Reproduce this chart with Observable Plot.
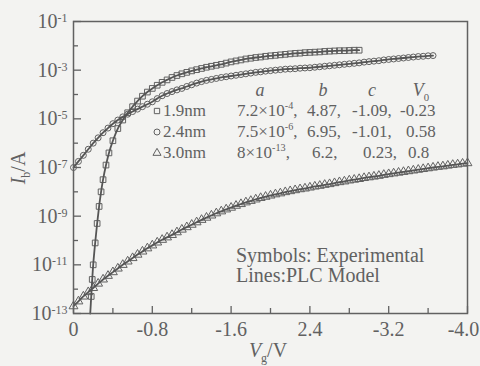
<!DOCTYPE html>
<html><head><meta charset="utf-8">
<script src="https://cdn.jsdelivr.net/npm/d3@7"></script>
<script src="https://cdn.jsdelivr.net/npm/@observablehq/plot@0.6"></script>
<style>
html,body{margin:0;padding:0;background:#f3f3f1;}
#chart{width:480px;height:366px;}
</style></head><body><div id="chart"></div>
<script>
// ---- data (V in volts, log10 of current in A) ----
const V_19 = [-0.17,-0.18,-0.19,-0.2,-0.22,-0.24,-0.26,-0.28,-0.3,-0.33,-0.36,-0.4,-0.45,-0.5,-0.55,-0.6,-0.65,-0.7,
  -0.75,-0.8,-0.85,-0.9,-0.95,-1,-1.05,-1.1,-1.15,-1.2,-1.25,-1.3,-1.35,-1.4,-1.45,-1.5,-1.55,-1.6,-1.65,-1.7,
  -1.75,-1.8,-1.85,-1.9,-1.95,-2,-2.05,-2.1,-2.15,-2.2,-2.25,-2.3,-2.35,-2.4,-2.45,-2.5,-2.55,-2.6,-2.65,-2.7,
  -2.75,-2.8,-2.85,-2.9];
const logI_19 = [-13.0,-12.3,-11.6,-11.0,-10.1,-9.3,-8.6,-8.0,-7.5,-6.9,-6.4,-5.9,-5.4,-5.05,-4.75,-4.5,-4.27,-4.07,
  -3.90,-3.75,-3.62,-3.50,-3.40,-3.30,-3.22,-3.15,-3.09,-3.03,
  -2.98,-2.93,-2.88,-2.84,-2.80,-2.76,-2.71,-2.66,-2.62,-2.58,
  -2.54,-2.51,-2.48,-2.46,-2.43,-2.41,-2.39,-2.37,-2.35,-2.33,
  -2.31,-2.30,-2.28,-2.27,-2.26,-2.25,-2.23,-2.22,-2.21,-2.20,
  -2.20,-2.19,-2.18,-2.18];

const V_24 = [0,-0.05,-0.1,-0.15,-0.2,-0.25,-0.3,-0.35,-0.4,-0.45,-0.5,-0.55,-0.6,-0.65,-0.7,-0.75,-0.8,-0.85,-0.9,-0.95,
  -1,-1.05,-1.1,-1.15,-1.2,-1.25,-1.3,-1.35,-1.4,-1.45,-1.5,-1.55,-1.6,-1.65,-1.7,-1.75,-1.8,-1.85,-1.9,-1.95,
  -2,-2.05,-2.1,-2.15,-2.2,-2.25,-2.3,-2.35,-2.4,-2.45,-2.5,-2.55,-2.6,-2.65,-2.7,-2.75,-2.8,-2.85,-2.9,-2.95,
  -3,-3.05,-3.1,-3.15,-3.2,-3.25,-3.3,-3.35,-3.4,-3.45,-3.5,-3.55,-3.6,-3.65];
const logI_24 = [-7.00,-6.75,-6.50,-6.25,-6.00,-5.78,-5.57,-5.38,-5.20,-5.05,
  -4.92,-4.81,-4.70,-4.60,-4.50,-4.40,-4.30,-4.17,-4.05,-3.96,
  -3.88,-3.81,-3.75,-3.67,-3.60,-3.53,-3.47,-3.42,-3.38,-3.34,
  -3.30,-3.27,-3.24,-3.21,-3.18,-3.15,-3.12,-3.09,-3.07,-3.04,
  -3.02,-3.00,-2.98,-2.96,-2.95,-2.94,-2.92,-2.91,-2.90,-2.88,
  -2.86,-2.84,-2.82,-2.80,-2.78,-2.76,-2.74,-2.72,-2.70,-2.67,
  -2.65,-2.63,-2.61,-2.58,-2.56,-2.54,-2.52,-2.50,-2.48,-2.46,
  -2.44,-2.43,-2.41,-2.40];

const V_30 = [0,-0.05,-0.1,-0.15,-0.2,-0.25,-0.3,-0.35,-0.4,-0.45,-0.5,-0.55,-0.6,-0.65,-0.7,-0.75,-0.8,-0.85,-0.9,-0.95,
  -1,-1.05,-1.1,-1.15,-1.2,-1.25,-1.3,-1.35,-1.4,-1.45,-1.5,-1.55,-1.6,-1.65,-1.7,-1.75,-1.8,-1.85,-1.9,-1.95,
  -2,-2.05,-2.1,-2.15,-2.2,-2.25,-2.3,-2.35,-2.4,-2.45,-2.5,-2.55,-2.6,-2.65,-2.7,-2.75,-2.8,-2.85,-2.9,-2.95,
  -3,-3.05,-3.1,-3.15,-3.2,-3.25,-3.3,-3.35,-3.4,-3.45,-3.5,-3.55,-3.6,-3.65,-3.7,-3.75,-3.8,-3.85,-3.9,-3.95,-4];
const logI_30 = [-12.70,-12.50,-12.30,-12.12,-11.95,-11.77,-11.60,-11.45,-11.30,-11.15,
  -11.00,-10.86,-10.72,-10.58,-10.45,-10.32,-10.20,-10.08,-9.97,-9.87,
  -9.77,-9.66,-9.55,-9.45,-9.35,-9.25,-9.15,-9.06,-8.97,-8.88,
  -8.80,-8.72,-8.65,-8.57,-8.50,-8.43,-8.37,-8.31,-8.25,-8.20,
  -8.15,-8.10,-8.06,-8.01,-7.97,-7.93,-7.89,-7.86,-7.82,-7.78,
  -7.75,-7.71,-7.68,-7.64,-7.60,-7.57,-7.53,-7.50,-7.47,-7.43,
  -7.40,-7.37,-7.34,-7.30,-7.27,-7.24,-7.21,-7.18,-7.15,-7.12,
  -7.09,-7.06,-7.03,-7.00,-6.97,-6.95,-6.92,-6.89,-6.87,-6.84,
  -6.82];

const xTicks = [0,-0.8,-1.6,-2.4,-3.2,-4.0];
const xTickLabels = ["0","-0.8","-1.6","2.4","-3.2","-4.0"];
const xMinor = [-0.4,-1.2,-2.0,-2.8,-3.6];
const yExpMajor = [-1,-3,-5,-7,-9,-11,-13];
const yExpMinor = [-2,-4,-6,-8,-10,-12];

const legendRows = [
  {sym:"square",   name:"1.9nm", a:["7.2×10","-4",","],  b:"4.87,", c:"-1.09,", v0:"-0.23"},
  {sym:"circle",   name:"2.4nm", a:["7.5×10","-6",","],  b:"6.95,", c:"-1.01,", v0:"0.58"},
  {sym:"triangle", name:"3.0nm", a:["8×10","-13",","],   b:"6.2,",  c:"0.23,",  v0:"0.8"}
];

// ---- build ----
const ink = "#616161";
const font = "'Liberation Serif','Times New Roman',serif";
const rows = (V, L, s) => L.map((l, i) => ({V: V[i], I: Math.pow(10, l), s})).filter(d => d.V !== undefined);
const r19 = rows(V_19, logI_19, "1.9nm");
const r24 = rows(V_24, logI_24, "2.4nm");
const r30 = rows(V_30, logI_30, "3.0nm");

const W = 480, H = 366, mL = 73, mR = 13, mT = 21, mB = 53;
const pxPerDecade = (H - mT - mB) / 12;
const pxPerVolt = (W - mL - mR) / 4;

const plot = Plot.plot({
  width: W, height: H,
  marginLeft: mL, marginRight: mR, marginTop: mT, marginBottom: mB,
  style: {background: "transparent", color: ink, fontFamily: font, fontSize: "20px"},
  x: {domain: [0, -4], ticks: xTicks, tickFormat: d => xTickLabels[xTicks.findIndex(t => Math.abs(t - d) < 1e-9)], tickSize: 0, tickPadding: 8, label: null},
  y: {type: "log", domain: [1e-13, 1e-1], ticks: yExpMajor.map(e => Math.pow(10, e)), tickFormat: d => String(Math.round(Math.log10(d))), tickSize: 0, tickPadding: 6, label: null},
  marks: [
    Plot.ruleY(yExpMajor.map(e => Math.pow(10, e)), {x1: () => 0, x2: () => -8 / pxPerVolt, stroke: ink, strokeWidth: 1.3}),
    Plot.ruleY(yExpMinor.map(e => Math.pow(10, e)), {x1: () => 0, x2: () => -5 / pxPerVolt, stroke: ink, strokeWidth: 1.3}),
    Plot.ruleX(xTicks, {y1: () => 1e-13, y2: () => 1e-13 * Math.pow(10, 7 / pxPerDecade), stroke: ink, strokeWidth: 1.3}),
    Plot.ruleX(xMinor, {y1: () => 1e-13, y2: () => 1e-13 * Math.pow(10, 5 / pxPerDecade), stroke: ink, strokeWidth: 1.3}),
    Plot.dot(r30, {x: "V", y: "I", symbol: "triangle", r: 3.3, stroke: ink, fill: "none", strokeWidth: 1}),
    Plot.dot(r24, {x: "V", y: "I", symbol: "circle", r: 3, stroke: ink, fill: "none", strokeWidth: 1}),
    Plot.dot(r19.filter(d => d.I > 3e-13), {x: "V", y: "I", symbol: "square", r: 3.2, stroke: ink, fill: "none", strokeWidth: 1}),
    Plot.line([...r19, ...r24, ...r30], {x: "V", y: "I", z: "s", stroke: "#555", strokeWidth: 1.8, curve: "catmull-rom"}),
    Plot.frame({stroke: ink, strokeWidth: 1.5})
  ]
});
document.getElementById("chart").appendChild(plot);

// ---- rich text post-processing ----
const NS = "http://www.w3.org/2000/svg";
const svg = plot.tagName.toLowerCase() === "svg" ? plot : plot.querySelector("svg");
svg.querySelectorAll('[aria-label^="y-axis"] text').forEach(t => {
  const e = t.textContent;
  t.textContent = "10";
  const s = document.createElementNS(NS, "tspan");
  s.setAttribute("dy", "-0.5em");
  s.setAttribute("font-size", "0.6em");
  s.textContent = e;
  t.appendChild(s);
});
// keep the last x label inside the picture, as in the reference
svg.querySelectorAll('[aria-label^="x-axis"] text').forEach(t => {
  if (t.textContent === "-4.0") t.setAttribute("dx", "-4");
});

function addText(parts, x, y, opts = {}) {
  const t = document.createElementNS(NS, "text");
  t.setAttribute("x", x); t.setAttribute("y", y);
  t.setAttribute("fill", ink);
  t.setAttribute("font-family", font);
  t.setAttribute("font-size", opts.size || 20);
  t.setAttribute("text-anchor", opts.anchor || "start");
  if (opts.transform) t.setAttribute("transform", opts.transform);
  let shift = 0;
  parts.forEach(p => {
    const s = document.createElementNS(NS, "tspan");
    if (typeof p === "string") p = {t: p};
    const small = p.sup || p.sub;
    const target = p.sup ? -0.4 : p.sub ? 0.25 : 0;
    if (small) {
      s.setAttribute("font-size", "0.6em");
      if (target !== shift) s.setAttribute("dy", ((target - shift) / 0.6) + "em");
    } else if (shift !== 0) {
      s.setAttribute("dy", (-shift) + "em");
    }
    if (p.it) s.setAttribute("font-style", "italic");
    shift = target;
    s.textContent = p.t;
    t.appendChild(s);
  });
  svg.appendChild(t);
  return t;
}

// header
const LS = 17;
addText([{t: "a", it: true}], 260, 96, {anchor: "middle", size: LS + 1});
addText([{t: "b", it: true}], 323, 96, {anchor: "middle", size: LS + 1});
addText([{t: "c", it: true}], 372, 96, {anchor: "middle", size: LS + 1});
addText([{t: "V", it: true}, {t: "0", sub: true}], 421, 96, {anchor: "middle", size: LS + 1});

const rowY = [116, 137, 158];
const bX = [307, 307, 312], cX = [352, 352, 363], vX = [400, 406, 408];
legendRows.forEach((r, i) => {
  const y = rowY[i];
  const p = document.createElementNS(NS, "path");
  p.setAttribute("d", d3.symbol(r.sym === "square" ? d3.symbolSquare : r.sym === "circle" ? d3.symbolCircle : d3.symbolTriangle, Math.PI * 3 * 3)());
  p.setAttribute("transform", `translate(157,${y - 5})`);
  p.setAttribute("fill", "none"); p.setAttribute("stroke", ink); p.setAttribute("stroke-width", 1);
  svg.appendChild(p);
  addText([r.name], 163, y, {size: LS});
  addText([r.a[0], {t: r.a[1], sup: true}, r.a[2]], 237, y, {size: LS});
  addText([r.b], bX[i], y, {size: LS});
  addText([r.c], cX[i], y, {size: LS});
  addText([r.v0], vX[i], y, {size: LS});
});

addText(["Symbols: Experimental"], 236, 262, {size: 20});
addText(["Lines:PLC Model"], 236, 282, {size: 20});

// axis labels
addText([{t: "V", it: true}, {t: "g", sub: true}, "/V"], 268, 357, {anchor: "middle", size: 20});
addText([{t: "I", it: true}, {t: "b", sub: true}, "/A"], 0, 0, {anchor: "middle", size: 20, transform: "translate(25,168) rotate(-90)"});
</script>
</body></html>
